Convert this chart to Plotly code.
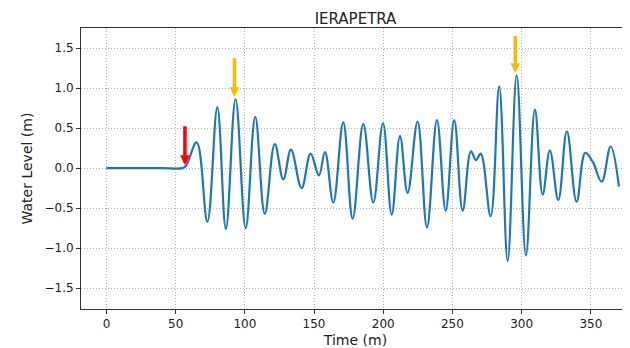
import plotly.graph_objects as go

# Time (minutes) and water level (m) (extrema of the record)
time_min = [0, 20, 40, 55, 57.5, 65.2, 72.9, 80.1, 86.3, 93.3, 100.6, 107.5, 114.4, 121.6,
            127.8, 133.3, 141.0, 147.5, 153.5, 157.9, 163.9, 171.1, 177.9, 185.6, 192.8,
            199.8, 206.1, 212.1, 217.6, 224.8, 231.6, 238.8, 245.1, 251.3, 257.4, 263.4,
            267.0, 270.4, 277.6, 283.8, 289.9, 296.4, 303.1, 309.6, 315.2, 320.4, 326.5,
            332.7, 339.7, 346.0, 351.3, 357.8, 364.3, 370.3]
water_level = [0, 0, 0, 0, 0.03, 0.32, -0.67, 0.76, -0.76, 0.86, -0.75, 0.64, -0.57, 0.30,
               -0.14, 0.23, -0.25, 0.18, -0.09, 0.20, -0.43, 0.57, -0.63, 0.55, -0.43,
               0.56, -0.58, 0.40, -0.31, 0.58, -0.74, 0.60, -0.53, 0.60, -0.53, 0.21,
               0.10, 0.18, -0.60, 1.02, -1.16, 1.16, -1.09, 0.73, -0.33, 0.22, -0.40,
               0.46, -0.42, 0.19, 0.08, -0.17, 0.27, -0.23]

# Arrow markers: time, top of shaft, tip (m), colour
arrow_times = [56.7, 92.5, 295.4]
arrow_tops = [0.54, 1.39, 1.67]
arrow_tips = [0.04, 0.89, 1.19]
arrow_colors = ["#ff0000", "#ffb800", "#ffb800"]

x_ticks = [0, 50, 100, 150, 200, 250, 300, 350]
y_ticks = [-1.5, -1.0, -0.5, 0.0, 0.5, 1.0, 1.5]

fig = go.Figure()
fig.add_trace(go.Scatter(
    x=time_min, y=water_level, mode="lines",
    line=dict(color="#1f77b4", width=2.2, shape="spline", smoothing=1.1),
    showlegend=False, hoverinfo="skip"))

for t, top, tip, col in zip(arrow_times, arrow_tops, arrow_tips, arrow_colors):
    fig.add_annotation(x=t, y=tip, ax=t, ay=top, xref="x", yref="y",
                       axref="x", ayref="y", text="", showarrow=True,
                       arrowhead=2, arrowsize=0.55, arrowwidth=3.5, arrowcolor=col)

# page body adds an 8px offset; margins compensate for it
font = "DejaVu Sans, sans-serif"
grid = dict(showgrid=True, gridcolor="#b4b4b4", griddash="1px,2px", gridwidth=0.8)
fig.update_layout(
    width=630, height=348,
    margin=dict(l=73, r=8, t=20, b=47, autoexpand=False),
    paper_bgcolor="white", plot_bgcolor="white",
    font=dict(family=font, size=12, color="#222"),
    title=dict(text="IERAPETRA", x=0.5, xanchor="center", xref="paper",
               yref="container", y=1 - 10.5 / 348, yanchor="middle", automargin=False,
               pad=dict(t=0, b=0), font=dict(size=15, family=font, color="#222")),
    xaxis=dict(range=[-18.4, 378.3], tickvals=x_ticks, ticks="outside", ticklen=4,
               tickcolor="#333", showline=True, linecolor="#333", linewidth=1, mirror=True,
               zeroline=False, automargin=False,
               title=dict(text="Time (m)", standoff=4), **grid),
    yaxis=dict(range=[-1.76, 1.75], tickvals=y_ticks, tickformat=".1f", ticks="outside",
               ticklen=4, tickcolor="#333", showline=True, linecolor="#333", linewidth=1,
               mirror=False, zeroline=False, automargin=False,
               title=dict(text="Water Level (m)", standoff=8), **grid),
)

fig.write_html("out.html")
